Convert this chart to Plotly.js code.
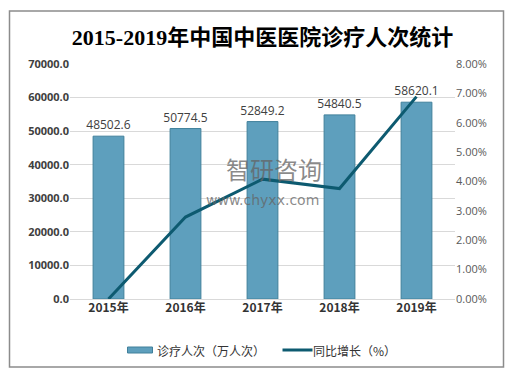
<!DOCTYPE html>
<html>
<head>
<meta charset="utf-8">
<script src="https://cdn.plot.ly/plotly-3.0.1.min.js"></script>
<style>html,body{margin:0;padding:0;background:#fff;}#chart{width:513px;height:374px;}</style>
</head>
<body>
<div id="chart"></div>
<script>
const years = ["2015年", "2016年", "2017年", "2018年", "2019年"];
const visits = [48502.6, 50774.5, 52849.2, 54840.5, 58620.1];
const growth = [0.0, 2.79, 4.08, 3.76, 6.89];
const visitsName = "诊疗人次（万人次）";
const growthName = "同比增长（%）";
const leftTicks = [0, 10000, 20000, 30000, 40000, 50000, 60000, 70000];

const font = "Noto Sans CJK SC, sans-serif";

const traces = [
  {
    type: "bar", x: years, y: visits, name: visitsName,
    width: 0.4,
    marker: {color: "#5e9fbd", line: {color: "#41809b", width: 1}},
    text: visits.map(v => v.toFixed(1)), textposition: "outside", constraintext: "none",
    textfont: {family: "Open Sans, sans-serif", size: 12, color: "#404040"},
    cliponaxis: false, hoverinfo: "skip", showlegend: false
  },
  {
    type: "scatter", mode: "lines", x: years, y: growth, yaxis: "y2",
    name: growthName, line: {color: "#0d5a70", width: 3},
    hoverinfo: "skip", showlegend: false
  }
];

const layout = {
  width: 513, height: 374,
  margin: {l: 69.5, r: 58, t: 64, b: 75},
  paper_bgcolor: "#fff", plot_bgcolor: "#fff",
  font: {family: font},
  title: {text: "2015-2019年中国中医医院诊疗人次统计",
    font: {family: "Liberation Serif, Noto Sans CJK SC, serif", size: 22, color: "#000", weight: 700},
    x: 0.5, xref: "paper", xanchor: "center", y: 0.9, yref: "container", yanchor: "middle"},
  xaxis: {type: "category", showgrid: false, zeroline: false, showline: false, ticks: "",
    tickmode: "array", tickvals: years, ticktext: years.map(t => "<b>" + t + "</b>"),
    tickfont: {family: font, size: 12, color: "#333"}},
  yaxis: {range: [0, 70000], tickmode: "array", tickvals: leftTicks,
    ticktext: leftTicks.map(v => "<b>" + v.toFixed(1) + "</b>"), showgrid: true,
    gridcolor: "#d9d9d9", gridwidth: 1, zeroline: true, zerolinecolor: "#d9d9d9",
    showline: false, ticks: "", ticklen: 0,
    tickfont: {family: "Open Sans, sans-serif", size: 11, color: "#404040"}},
  yaxis2: {overlaying: "y", side: "right", range: [0, 8], dtick: 1, tickformat: ".2f",
    ticksuffix: "%", showgrid: false, zeroline: false, showline: false, ticks: "",
    tickfont: {family: "Open Sans, sans-serif", size: 11, color: "#595959"}},
  shapes: [
    {type: "rect", xref: "paper", yref: "paper", xsizemode: "pixel", ysizemode: "pixel",
     xanchor: 0, yanchor: 0, x0: -60.5, x1: 433.5, y0: -68, y1: 288,
     line: {color: "#8c8c8c", width: 1.5}, fillcolor: "rgba(0,0,0,0)", layer: "below"},
    {type: "rect", xref: "paper", yref: "paper", xsizemode: "pixel", ysizemode: "pixel",
     xanchor: 0, yanchor: 0, x0: 57.5, x1: 82.5, y0: -54, y1: -48,
     line: {color: "#41809b", width: 1}, fillcolor: "#5e9fbd"},
    {type: "line", xref: "paper", yref: "paper", xsizemode: "pixel", ysizemode: "pixel",
     xanchor: 0, yanchor: 0, x0: 212.5, x1: 242.5, y0: -51, y1: -51,
     line: {color: "#0d5a70", width: 3}}
  ],
  annotations: [
    {xref: "paper", yref: "paper", x: 0.222, y: -0.219, xanchor: "left", yanchor: "middle",
     text: visitsName, showarrow: false, font: {family: font, size: 12, color: "#333"}},
    {xref: "paper", yref: "paper", x: 0.627, y: -0.219, xanchor: "left", yanchor: "middle",
     text: growthName, showarrow: false, font: {family: font, size: 12, color: "#333"}},
    {xref: "paper", yref: "paper", x: 0.53, y: 0.555, xanchor: "center", yanchor: "middle",
     text: "智研咨询", showarrow: false, font: {family: font, size: 24, color: "rgba(100,100,100,0.75)"}},
    {xref: "paper", yref: "paper", x: 0.5, y: 0.42, xanchor: "center", yanchor: "middle",
     text: "www.chyxx.com", showarrow: false, font: {family: "DejaVu Sans, sans-serif", size: 14, color: "rgba(100,100,100,0.75)"}}
  ]
};

Plotly.newPlot("chart", traces, layout, {displayModeBar: false, staticPlot: true});
</script>
</body>
</html>
